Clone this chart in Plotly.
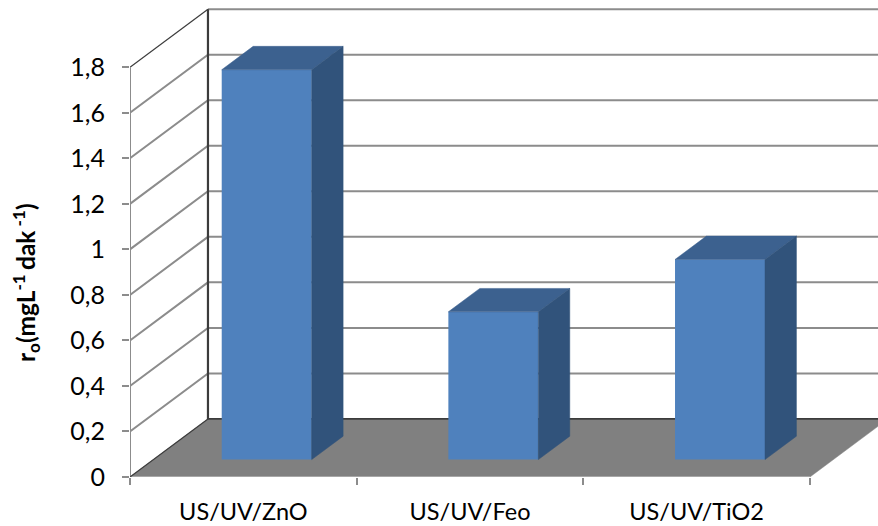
import plotly.graph_objects as go

categories = ["US/UV/ZnO", "US/UV/Feo", "US/UV/TiO2"]
values = [1.7125, 0.649, 0.879]
y_ticks = [0, 0.2, 0.4, 0.6, 0.8, 1, 1.2, 1.4, 1.6, 1.8]
y_tick_labels = ["0", "0,2", "0,4", "0,6", "0,8", "1", "1,2", "1,4", "1,6", "1,8"]
x_edges = [-0.5, 0.5, 1.5, 2.5]

# oblique projection of the depth axis, in data units
DX, DY = 0.344, 0.255
FRONT, BACK = 0.3, 0.703
BAR_W = 0.397

GRID = "#8c8c8c"
DARK = "#3c3c3c"
FLOOR = "#808080"
C_FRONT, C_TOP, C_SIDE = "#4f81bd", "#3c618f", "#31537b"
FONT = "Lato"

X_RANGE = [-0.5, -0.5 + (878 - 129.5) / 226.8]
Y_RANGE = [0, (476.7 - 4) / 227.5]

fig = go.Figure()


def poly(xs, ys, color, **kw):
    fig.add_trace(go.Scatter(x=xs, y=ys, mode="lines", fill="toself", fillcolor=color,
                             line=dict(width=0.5, color=color), hoverinfo="skip",
                             showlegend=False, cliponaxis=False, **kw))


def line(xs, ys, color, width):
    fig.add_trace(go.Scatter(x=xs, y=ys, mode="lines", line=dict(color=color, width=width),
                             hoverinfo="skip", showlegend=False, cliponaxis=False))


x0, x1 = x_edges[0], x_edges[-1]
# floor
poly([x0, x0 + DX, x1 + DX, x1, x0], [0, DY, DY, 0, 0], FLOOR)
# gridlines on side and back walls
for v in y_ticks[1:-1]:
    line([x0, x0 + DX, x1 + DX], [v, v + DY, v + DY], GRID, 2)
top = y_ticks[-1]
line([x0 + DX, x1 + DX], [top + DY, top + DY], GRID, 2)
line([x0, x0 + DX], [top, top + DY], DARK, 1.2)
line([x0, x0], [0, top], GRID, 2)
line([x0, x1], [0, 0], "#b4b4b4", 1.5)
line([x0, x0 + DX], [0, DY], DARK, 1.2)
line([x0 + DX, x1 + DX], [DY, DY], DARK, 1.8)
line([x0 + DX, x0 + DX], [DY, top + DY], DARK, 2.2)

# bars on an overlaid pair of axes so that they sit above the floor
base = FRONT * DY
centers = [i + FRONT * DX for i in range(len(categories))]
fig.add_trace(go.Bar(x=centers, y=values, base=base, width=BAR_W, marker=dict(color=C_FRONT, line=dict(width=0)),
                     xaxis="x2", yaxis="y2", showlegend=False, hoverinfo="skip"))
d = (BACK - FRONT)
for c, v in zip(centers, values):
    l, r = c - BAR_W / 2, c + BAR_W / 2
    t = base + v
    poly([l, r, r + d * DX, l + d * DX, l], [t, t, t + d * DY, t + d * DY, t], C_TOP, xaxis="x2", yaxis="y2")
    poly([r, r + d * DX, r + d * DX, r, r], [base, base + d * DY, t + d * DY, t, base], C_SIDE, xaxis="x2", yaxis="y2")

fig.update_layout(
    width=878, height=526, margin=dict(l=129.5, r=0, t=4, b=49.3, autoexpand=False),
    paper_bgcolor="white", plot_bgcolor="white", showlegend=False,
    font=dict(family=FONT, color="#000000", size=23),
    xaxis=dict(range=X_RANGE, showgrid=False, zeroline=False, showline=False,
               tickmode="array", tickvals=list(range(len(categories))), ticktext=categories,
               ticks="", ticklabelstandoff=18, tickfont=dict(size=23.5),
               minor=dict(tickmode="array", tickvals=x_edges, ticks="outside", ticklen=7,
                          tickcolor=GRID, tickwidth=2, showgrid=False)),
    yaxis=dict(range=Y_RANGE, showgrid=False, zeroline=False, showline=False,
               tickmode="array", tickvals=y_ticks, ticktext=y_tick_labels,
               ticks="outside", ticklen=7, tickcolor=GRID, tickwidth=2,
               ticklabelstandoff=12, tickfont=dict(size=25)),
    xaxis2=dict(range=X_RANGE, overlaying="x", visible=False),
    yaxis2=dict(range=Y_RANGE, overlaying="y", visible=False),
    annotations=[dict(text="<b>r<sub>o</sub>(mgL<sup>-1 </sup>dak<sup> -1</sup>)</b>",
                      xref="paper", yref="paper", x=-0.139, y=0.41, xanchor="center", yanchor="middle",
                      textangle=-90, showarrow=False, font=dict(size=24.5, family=FONT))],
)
fig.write_html("out.html", post_script="document.body.style.margin='0';",
               config=dict(displayModeBar=False))
